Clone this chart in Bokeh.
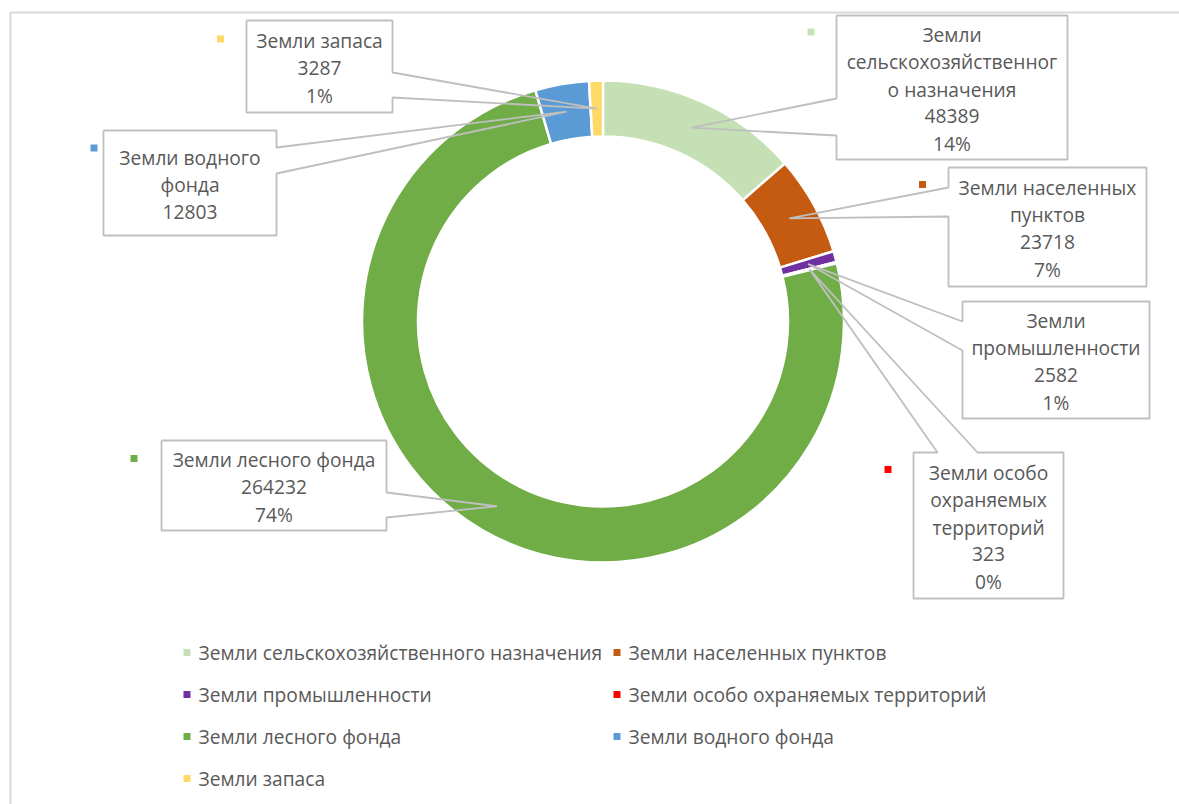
import math
from bokeh.plotting import figure
from bokeh.models import ColumnDataSource, Range1d
from bokeh.core.properties import value
from bokeh.embed import file_html
from bokeh.resources import INLINE

# ---------------- data ----------------
categories = [
    "Земли сельскохозяйственного назначения",
    "Земли населенных пунктов",
    "Земли промышленности",
    "Земли особо охраняемых территорий",
    "Земли лесного фонда",
    "Земли водного фонда",
    "Земли запаса",
]
values = [48389, 23718, 2582, 323, 264232, 12803, 3287]
colors = ["#C5E0B4", "#C55A11", "#7030A0", "#FF0000", "#70AD47", "#5B9BD5", "#FFD966"]
label_names = [
    "Земли\nсельскохозяйственног\nо назначения",
    "Земли населенных\nпунктов",
    "Земли\nпромышленности",
    "Земли особо\nохраняемых\nтерриторий",
    "Земли лесного фонда",
    "Земли водного\nфонда",
    "Земли запаса",
]
show_percent = [True, True, True, True, True, False, True]

# ---------------- layout helpers ----------------
W, H = 1179, 804
def X(px):
    return px
def Y(py):
    return H - py

CX, CY = X(602.5), Y(321)
R_OUT, R_IN = 241, 185
FONT = value("Open Sans")
FSIZE = "19.2px"
TXT = "#595959"
LINE = "#BFBFBF"

p = figure(width=W, height=H, x_range=Range1d(0, W), y_range=Range1d(0, H),
           output_backend="svg", toolbar_location=None,
           x_axis_location=None, y_axis_location=None, min_border=0)
p.grid.visible = False
p.outline_line_color = None
p.background_fill_color = "white"
p.border_fill_color = "white"

# chart frame
p.line([X(10), X(10), X(1250)], [Y(900), Y(12), Y(12)], line_color="#D9D9D9", line_width=2)

# ---------------- donut ----------------
total = float(sum(values))
starts, ends, mids = [], [], []
cum = 0.0
for v in values:
    a0 = cum / total * 2 * math.pi
    cum += v
    a1 = cum / total * 2 * math.pi
    starts.append(math.pi / 2 - a0)
    ends.append(math.pi / 2 - a1)
    mids.append((a0 + a1) / 2)

src = ColumnDataSource(dict(start=starts, end=ends, color=colors))
p.annular_wedge(x=CX, y=CY, inner_radius=R_IN, outer_radius=R_OUT,
                start_angle="start", end_angle="end", direction="clock",
                fill_color="color", line_color="white", line_width=2.5, source=src)

# ---------------- callout labels ----------------
# box (left, top, right, bottom) in page pixels, side of the pointer, pointer base
boxes = [
    ((836, 15, 1067, 159), "left", (98, 135)),
    ((948, 167, 1146, 286), "left", (187, 216)),
    ((962, 301, 1149, 418), "left", (321, 350)),
    ((913, 452, 1063, 598), "top", (937, 977)),
    ((161, 440, 386, 530), "right", (492, 517)),
    ((103, 130, 276, 235), "right", (147, 173)),
    ((246, 20, 392, 112), "right", (72, 97)),
]
keys = [(810.5, 31.5), (922, 184), None, (887.5, 469), (133.5, 458), (93.5, 147.5), (220, 38.5)]

r_mid = (R_IN + R_OUT) / 2.0
rect_l, rect_r, rect_t, rect_b = [], [], [], []
xs, ys = [], []
tx, ty, tt = [], [], []
for i, ((l, t, r, b), side, (b1, b2)) in enumerate(boxes):
    tipx = CX + r_mid * math.sin(mids[i])
    tipy = CY + r_mid * math.cos(mids[i])
    L, R, T, B = X(l), X(r), Y(t), Y(b)
    rect_l.append(L); rect_r.append(R); rect_t.append(T); rect_b.append(B)
    if side == "top":
        pts = [(L, T), (X(b1), T), (tipx, tipy), (X(b2), T), (R, T), (R, B), (L, B), (L, T)]
    elif side == "right":
        pts = [(L, T), (R, T), (R, Y(b1)), (tipx, tipy), (R, Y(b2)), (R, B), (L, B), (L, T)]
    else:
        pts = [(L, T), (R, T), (R, B), (L, B), (L, Y(b2)), (tipx, tipy), (L, Y(b1)), (L, T)]
    xs.append([q[0] for q in pts])
    ys.append([q[1] for q in pts])

    lines = label_names[i].split("\n") + [str(values[i])]
    if show_percent[i]:
        lines.append(f"{round(values[i] / total * 100)}%")
    n = len(lines)
    yc = (t + b) / 2.0 + 1.5
    for k, s in enumerate(lines):
        tx.append(X((l + r) / 2.0))
        ty.append(Y(yc + (k - (n - 1) / 2.0) * 27.2))
        tt.append(s)

p.quad(left=rect_l, right=rect_r, top=rect_t, bottom=rect_b, fill_color="white", line_color=None)
p.multi_line(xs=xs, ys=ys, line_color=LINE, line_width=1.8)
p.text(x=tx, y=ty, text=tt, text_font=FONT, text_font_size=FSIZE, text_color=TXT,
       text_align="center", text_baseline="middle")

kx, ky, kc = [], [], []
for i, k in enumerate(keys):
    if k is None:
        continue
    kx.append(X(k[0])); ky.append(Y(k[1])); kc.append(colors[i])
p.rect(x=kx, y=ky, width=7, height=7, fill_color=kc, line_color=None)

# ---------------- legend ----------------
lg_x = [186.5, 616.5]
lg_y0, lg_dy = 652, 42
lx, ly, lc, ltx, lty = [], [], [], [], []
for i, c in enumerate(categories):
    col, row = i % 2, i // 2
    mx = lg_x[col]
    my = lg_y0 + row * lg_dy
    lx.append(X(mx)); ly.append(Y(my)); lc.append(colors[i])
    ltx.append(X(mx + 11.5)); lty.append(Y(my))
p.rect(x=lx, y=ly, width=7, height=7, fill_color=lc, line_color=None)
p.text(x=ltx, y=lty, text=categories, text_font=FONT, text_font_size=FSIZE, text_color=TXT,
       text_align="left", text_baseline="middle")

open("out.html", "w").write(file_html(p, INLINE))
